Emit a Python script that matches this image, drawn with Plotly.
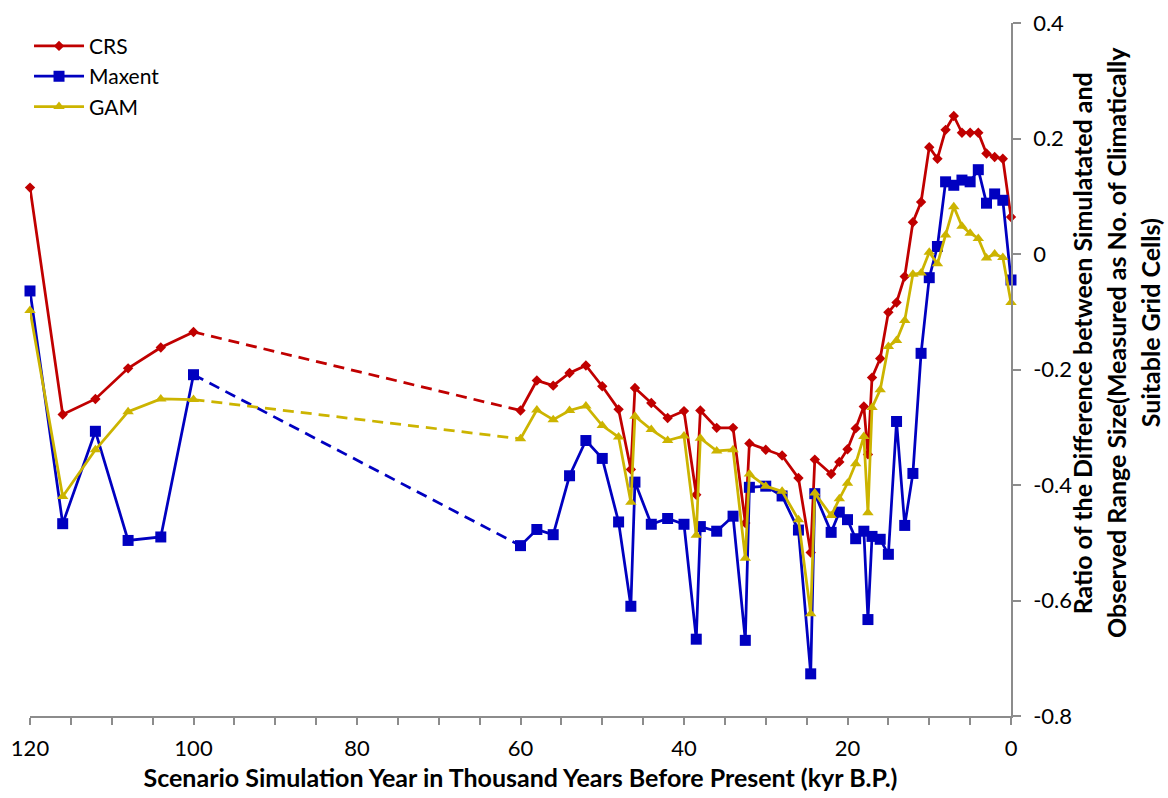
import plotly.graph_objects as go

# Simulation time slices (kyr B.P.): early block and the continuous late block
years_early = [120, 116, 112, 108, 104, 100]
years_late = [60, 58, 56, 54, 52, 50, 48, 46.5, 46, 44, 42, 40, 38.5, 38, 36, 34,
              32.5, 32, 30, 28, 26, 24.5, 24, 22, 21, 20, 19, 18, 17.5, 17, 16, 15,
              14, 13, 12, 11, 10, 9, 8, 7, 6, 5, 4, 3, 2, 1, 0]

crs_early = [0.115, -0.278, -0.251, -0.198, -0.162, -0.135]
crs_late = [-0.271, -0.219, -0.228, -0.206, -0.193, -0.229, -0.269, -0.373, -0.232,
            -0.258, -0.284, -0.272, -0.417, -0.271, -0.301, -0.301, -0.466, -0.328,
            -0.339, -0.349, -0.388, -0.517, -0.356, -0.381, -0.360, -0.338, -0.302,
            -0.264, -0.347, -0.214, -0.181, -0.101, -0.084, -0.039, 0.055, 0.090,
            0.185, 0.165, 0.215, 0.239, 0.210, 0.210, 0.210, 0.174, 0.168, 0.165, 0.064]

maxent_early = [-0.064, -0.467, -0.307, -0.496, -0.490, -0.209]
maxent_late = [-0.505, -0.477, -0.486, -0.384, -0.323, -0.354, -0.464, -0.610, -0.395,
               -0.468, -0.458, -0.468, -0.667, -0.472, -0.480, -0.454, -0.669, -0.404,
               -0.402, -0.419, -0.478, -0.727, -0.415, -0.482, -0.447, -0.460, -0.493,
               -0.480, -0.633, -0.489, -0.494, -0.520, -0.290, -0.470, -0.380, -0.172,
               -0.041, 0.013, 0.125, 0.119, 0.128, 0.125, 0.146, 0.088, 0.104, 0.093, -0.045]

gam_early = [-0.098, -0.420, -0.339, -0.273, -0.251, -0.252]
gam_late = [-0.320, -0.270, -0.287, -0.271, -0.263, -0.297, -0.317, -0.430, -0.281,
            -0.304, -0.323, -0.315, -0.487, -0.319, -0.341, -0.339, -0.527, -0.381,
            -0.402, -0.411, -0.460, -0.623, -0.414, -0.453, -0.424, -0.397, -0.363,
            -0.316, -0.448, -0.266, -0.235, -0.160, -0.150, -0.115, -0.035, -0.033,
            0.003, -0.017, 0.033, 0.082, 0.048, 0.036, 0.027, -0.007, 0.000, -0.006, -0.084]

x_tick_values = [120, 100, 80, 60, 40, 20, 0]
x_tick_labels = ["120", "100", "80", "60", "40", "20", "0"]
y_tick_values = [0.4, 0.2, 0.0, -0.2, -0.4, -0.6, -0.8]
y_tick_labels = ["0.4", "0.2", "0", "-0.2", "-0.4", "-0.6", "-0.8"]

series = [
    ("CRS", crs_early, crs_late, "#C00000", "diamond", 8),
    ("Maxent", maxent_early, maxent_late, "#0000C0", "square", 11),
    ("GAM", gam_early, gam_late, "#CCB400", "triangle-up", 10),
]

AXIS_GREY = "#8C8C8C"
TICK_FONT = dict(family="Lato, 'Open Sans', sans-serif", size=22, color="#000000")
X_TITLE_FONT = dict(family="Lato, Roboto, sans-serif", size=25, color="#000000", weight="bold")
Y_TITLE_FONT = dict(family="Lato, Roboto, sans-serif", size=25, color="#000000", weight="bold")

fig = go.Figure()

for name, early, late, color, symbol, msize in series:
    # dashed bridge across the gap between 100 and 60 kyr B.P.
    fig.add_trace(go.Scatter(
        x=[years_early[-1], years_late[0]], y=[early[-1], late[0]],
        mode="lines", line=dict(color=color, width=2.75, dash="11px,7px"),
        showlegend=False, hoverinfo="skip",
    ))
    fig.add_trace(go.Scatter(
        x=years_early + [None] + years_late,
        y=early + [None] + late,
        mode="lines+markers", name=name,
        line=dict(color=color, width=2.75),
        marker=dict(symbol=symbol, size=msize, color=color, line=dict(width=0)),
        connectgaps=False, cliponaxis=False,
    ))

fig.update_layout(
    width=1168, height=798,
    margin=dict(l=30, r=157, t=23, b=82),
    paper_bgcolor="white", plot_bgcolor="white",
    showlegend=True,
    legend=dict(
        x=-0.001, y=0.996, xanchor="left", yanchor="top",
        font=dict(family="Lato, 'Open Sans', sans-serif", size=21, color="#000000"),
        bgcolor="rgba(0,0,0,0)", borderwidth=0, tracegroupgap=0, itemwidth=50,
    ),
    xaxis=dict(
        range=[120, 0], autorange=False,
        tickmode="array", tickvals=x_tick_values, ticktext=x_tick_labels,
        ticks="outside", ticklen=7, tickwidth=1.5, tickcolor=AXIS_GREY,
        minor=dict(dtick=5, tick0=0, ticks="outside", ticklen=7, tickwidth=1.5,
                   tickcolor=AXIS_GREY, showgrid=False),
        showline=True, linecolor=AXIS_GREY, linewidth=1.5,
        showgrid=False, zeroline=False,
        tickfont=TICK_FONT, ticklabelstandoff=5,
        title=dict(text="Scenario Simulation Year in Thousand Years Before Present (kyr B.P.)",
                   font=X_TITLE_FONT, standoff=9),
        automargin=False,
    ),
    yaxis=dict(
        range=[-0.8, 0.4], autorange=False, side="right",
        tickmode="array", tickvals=y_tick_values, ticktext=y_tick_labels,
        ticks="outside", ticklen=8, tickwidth=1.5, tickcolor=AXIS_GREY,
        showline=True, linecolor=AXIS_GREY, linewidth=1.5,
        showgrid=False, zeroline=False,
        tickfont=TICK_FONT, ticklabelstandoff=8,
        automargin=False,
    ),
)

# vertical axis title, one line per annotation
y_title_lines = [
    ("Ratio of the Difference between Simulatated and", 1.0725, 0.538),
    ("Observed Range Size(Measured as No. of Climatically", 1.1075, 0.539),
    ("Suitable Grid Cells)", 1.1425, 0.568),
]
for text, xp, yp in y_title_lines:
    fig.add_annotation(
        text=text, xref="paper", yref="paper", x=xp, y=yp,
        xanchor="center", yanchor="middle", textangle=-90,
        showarrow=False, font=Y_TITLE_FONT,
    )

fig.write_html("out.html")
